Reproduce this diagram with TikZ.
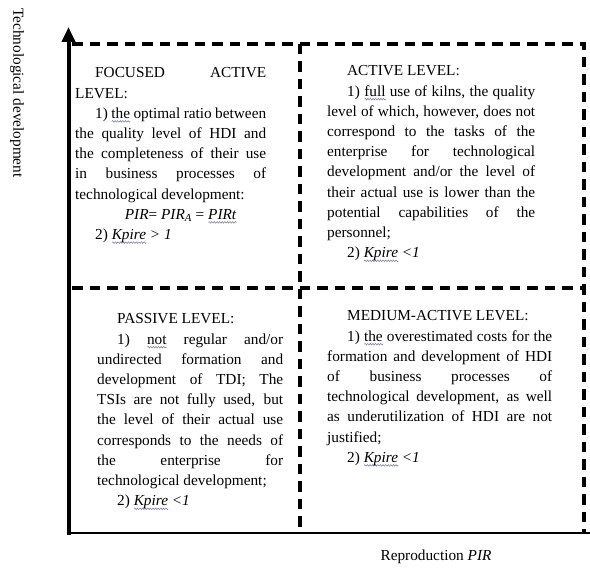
\documentclass[tikz,border=0pt]{standalone}
\usepackage{fontspec}
\setmainfont{Liberation Serif}
\usetikzlibrary{arrows.meta,decorations.pathmorphing}
\definecolor{squig}{RGB}{120,120,150}
% wavy proofing mark under a word
\newlength\wvlen
\newcommand\wv[1]{\settowidth\wvlen{#1}\rlap{\raisebox{-3pt}[0pt][0pt]{\tikz[x=1pt,y=1pt,baseline=0pt]\draw[squig,line width=0.5pt,decorate,decoration={snake,amplitude=0.8pt,segment length=2.6pt}] (0,0) -- (\wvlen,0);}}#1}
% one justified line / one ragged line of a text block
\newcommand\jl[1]{\noindent\makebox[\linewidth][s]{#1}\par}
\newcommand\rl[1]{\noindent#1\par}
\newcommand\ind{\hspace*{20pt}}
\newenvironment{cell}[1]{\begin{minipage}[t]{#1}\fontsize{15.3}{20.2}\selectfont\parskip=0pt\parindent=0pt}{\end{minipage}}

\begin{document}
\begin{tikzpicture}[x=1pt,y=-1pt,
  dashline/.style={line width=3.3pt, dash pattern=on 10.5pt off 7pt},
  cellbox/.style={anchor=base west, inner sep=0pt},
  axislabel/.style={inner sep=0pt, font=\fontsize{15.3}{18}\selectfont}]
\useasboundingbox (0,0) rectangle (590,569);

% axes end points
\coordinate (origin) at (68.5,535);
\coordinate (ytop) at (68.5,27);
\coordinate (xstart) at (66.5,533);
\coordinate (xend) at (590,533);

% dashed quadrant grid
\coordinate (tl) at (72,44);
\coordinate (tr) at (584,44);
\coordinate (br) at (584,533);
\coordinate (ml) at (72,288);
\coordinate (mr) at (584,288);
\coordinate (mt) at (300,44);
\coordinate (mb) at (300,533);
\draw[dashline] (tl) -- (tr) -- (br);
\draw[dashline] (ml) -- (mr);
\draw[dashline] (mt) -- (mb);

% axes
\draw[line width=2.6pt] (xstart) -- (xend);
\draw[line width=4pt, -{Triangle[width=13pt,length=15pt]}] (origin) -- (ytop);

\node[axislabel, rotate=-90] (ylabel) at (17,93) {Technological development};
\node[axislabel] (xlabel) at (436,557) {Reproduction \textit{PIR}};

% upper left quadrant
\node[cellbox] (focused) at (75,78) {\begin{cell}{191pt}
\jl{\ind FOCUSED ACTIVE}
\rl{LEVEL:}
\jl{\ind 1) \wv{the} optimal ratio between}
\jl{the quality level of HDI and}
\jl{the completeness of their use}
\jl{in business processes of}
\rl{technological development:}
\noindent\makebox[\linewidth]{\hspace{20pt}\textit{PIR}= \textit{PIR\textsubscript{A}} = \textit{\wv{PIRt}}}\par
\rl{\ind 2) \textit{\wv{Kpire} > 1}}
\end{cell}};

% upper right quadrant
\node[cellbox] (active) at (327,76) {\begin{cell}{208pt}
\rl{\ind ACTIVE LEVEL:}
\jl{\ind 1) \wv{full} use of kilns, the quality}
\jl{level of which, however, does not}
\jl{correspond to the tasks of the}
\jl{enterprise for technological}
\jl{development and/or the level of}
\jl{their actual use is lower than the}
\jl{potential capabilities of the}
\rl{personnel;}
\rl{\ind 2) \textit{\wv{Kpire} <1}}
\end{cell}};

% lower left quadrant
\node[cellbox] (passive) at (97,324) {\begin{cell}{186pt}
\rl{\ind PASSIVE LEVEL:}
\jl{\ind 1) \wv{not} regular and/or}
\jl{undirected formation and}
\jl{development of TDI; The}
\jl{TSIs are not fully used, but}
\jl{the level of their actual use}
\jl{corresponds to the needs of}
\jl{the enterprise for}
\rl{technological development;}
\rl{\ind 2) \textit{\wv{Kpire} <1}}
\end{cell}};

% lower right quadrant
\node[cellbox] (medium) at (327,321) {\begin{cell}{225pt}
\rl{\ind MEDIUM-ACTIVE LEVEL:}
\jl{\ind 1) \wv{the} overestimated costs for the}
\jl{formation and development of HDI}
\jl{of business processes of}
\jl{technological development, as well}
\jl{as underutilization of HDI are not}
\rl{justified;}
\rl{\ind 2) \textit{\wv{Kpire} <1}}
\end{cell}};
\end{tikzpicture}
\end{document}
